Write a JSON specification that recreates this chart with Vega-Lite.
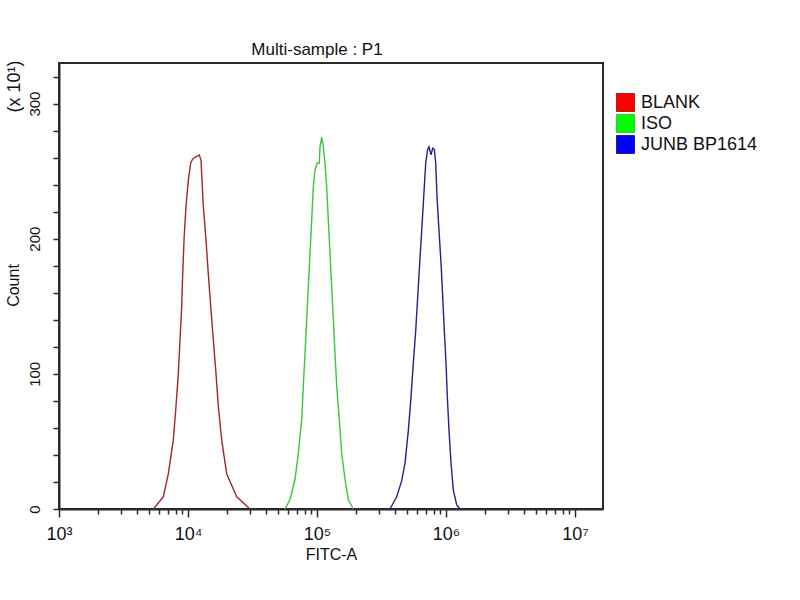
{
  "$schema": "https://vega.github.io/schema/vega-lite/v6.json",
  "width": 544,
  "height": 446,
  "autosize": "none",
  "padding": {"left": 59, "top": 63, "right": 197, "bottom": 91},
  "background": "white",
  "config": {
    "font": "Liberation Sans",
    "view": {"stroke": "#2a2a2a", "strokeWidth": 2},
    "axis": {"grid": false, "domainColor": "#2a2a2a", "domainWidth": 2, "tickColor": "#2a2a2a", "tickWidth": 1.5, "labelColor": "#111", "titleColor": "#111", "titleFontWeight": "normal"}
  },
  "title": {"text": "Multi-sample : P1", "fontSize": 17, "fontWeight": "normal", "color": "#111", "offset": 1, "dx": -14},
  "data": {
    "values": [
      {"sample": "BLANK", "fitc": 5383, "count": 0},
      {"sample": "BLANK", "fitc": 6435, "count": 9},
      {"sample": "BLANK", "fitc": 7036, "count": 26},
      {"sample": "BLANK", "fitc": 7691, "count": 51},
      {"sample": "BLANK", "fitc": 8072, "count": 76},
      {"sample": "BLANK", "fitc": 8411, "count": 100},
      {"sample": "BLANK", "fitc": 8670, "count": 125},
      {"sample": "BLANK", "fitc": 8938, "count": 150},
      {"sample": "BLANK", "fitc": 9098, "count": 174},
      {"sample": "BLANK", "fitc": 9312, "count": 199},
      {"sample": "BLANK", "fitc": 9650, "count": 224},
      {"sample": "BLANK", "fitc": 10054, "count": 243},
      {"sample": "BLANK", "fitc": 10493, "count": 256},
      {"sample": "BLANK", "fitc": 10874, "count": 259},
      {"sample": "BLANK", "fitc": 11679, "count": 261},
      {"sample": "BLANK", "fitc": 12236, "count": 262},
      {"sample": "BLANK", "fitc": 12613, "count": 258},
      {"sample": "BLANK", "fitc": 13141, "count": 224},
      {"sample": "BLANK", "fitc": 13788, "count": 199},
      {"sample": "BLANK", "fitc": 14370, "count": 174},
      {"sample": "BLANK", "fitc": 14997, "count": 150},
      {"sample": "BLANK", "fitc": 15710, "count": 125},
      {"sample": "BLANK", "fitc": 16489, "count": 100},
      {"sample": "BLANK", "fitc": 17180, "count": 76},
      {"sample": "BLANK", "fitc": 18251, "count": 51},
      {"sample": "BLANK", "fitc": 19953, "count": 26},
      {"sample": "BLANK", "fitc": 23850, "count": 9},
      {"sample": "BLANK", "fitc": 30240, "count": 0},
      {"sample": "ISO", "fitc": 56490, "count": 0},
      {"sample": "ISO", "fitc": 61760, "count": 7},
      {"sample": "ISO", "fitc": 67530, "count": 22},
      {"sample": "ISO", "fitc": 71620, "count": 41},
      {"sample": "ISO", "fitc": 76090, "count": 66},
      {"sample": "ISO", "fitc": 78300, "count": 91},
      {"sample": "ISO", "fitc": 80720, "count": 115},
      {"sample": "ISO", "fitc": 83210, "count": 140},
      {"sample": "ISO", "fitc": 85620, "count": 164},
      {"sample": "ISO", "fitc": 88260, "count": 189},
      {"sample": "ISO", "fitc": 90960, "count": 214},
      {"sample": "ISO", "fitc": 93600, "count": 238},
      {"sample": "ISO", "fitc": 96500, "count": 251},
      {"sample": "ISO", "fitc": 100530, "count": 256},
      {"sample": "ISO", "fitc": 104180, "count": 256},
      {"sample": "ISO", "fitc": 105500, "count": 268},
      {"sample": "ISO", "fitc": 108740, "count": 275},
      {"sample": "ISO", "fitc": 111900, "count": 268},
      {"sample": "ISO", "fitc": 115350, "count": 256},
      {"sample": "ISO", "fitc": 118900, "count": 238},
      {"sample": "ISO", "fitc": 122360, "count": 214},
      {"sample": "ISO", "fitc": 126130, "count": 189},
      {"sample": "ISO", "fitc": 130020, "count": 164},
      {"sample": "ISO", "fitc": 133780, "count": 140},
      {"sample": "ISO", "fitc": 137880, "count": 115},
      {"sample": "ISO", "fitc": 142130, "count": 91},
      {"sample": "ISO", "fitc": 148900, "count": 66},
      {"sample": "ISO", "fitc": 155420, "count": 41},
      {"sample": "ISO", "fitc": 164820, "count": 22},
      {"sample": "ISO", "fitc": 174820, "count": 7},
      {"sample": "ISO", "fitc": 191150, "count": 0},
      {"sample": "JUNB BP1614", "fitc": 367950, "count": 0},
      {"sample": "JUNB BP1614", "fitc": 414800, "count": 9},
      {"sample": "JUNB BP1614", "fitc": 453500, "count": 21},
      {"sample": "JUNB BP1614", "fitc": 481200, "count": 34},
      {"sample": "JUNB BP1614", "fitc": 510400, "count": 58},
      {"sample": "JUNB BP1614", "fitc": 535600, "count": 83},
      {"sample": "JUNB BP1614", "fitc": 557900, "count": 108},
      {"sample": "JUNB BP1614", "fitc": 582300, "count": 132},
      {"sample": "JUNB BP1614", "fitc": 603500, "count": 157},
      {"sample": "JUNB BP1614", "fitc": 625400, "count": 182},
      {"sample": "JUNB BP1614", "fitc": 648100, "count": 206},
      {"sample": "JUNB BP1614", "fitc": 671700, "count": 231},
      {"sample": "JUNB BP1614", "fitc": 696100, "count": 256},
      {"sample": "JUNB BP1614", "fitc": 721400, "count": 266},
      {"sample": "JUNB BP1614", "fitc": 738400, "count": 268},
      {"sample": "JUNB BP1614", "fitc": 765200, "count": 262},
      {"sample": "JUNB BP1614", "fitc": 788800, "count": 267},
      {"sample": "JUNB BP1614", "fitc": 811600, "count": 266},
      {"sample": "JUNB BP1614", "fitc": 832200, "count": 256},
      {"sample": "JUNB BP1614", "fitc": 851600, "count": 231},
      {"sample": "JUNB BP1614", "fitc": 882500, "count": 206},
      {"sample": "JUNB BP1614", "fitc": 914600, "count": 182},
      {"sample": "JUNB BP1614", "fitc": 942800, "count": 157},
      {"sample": "JUNB BP1614", "fitc": 970100, "count": 132},
      {"sample": "JUNB BP1614", "fitc": 1000000, "count": 108},
      {"sample": "JUNB BP1614", "fitc": 1023500, "count": 83},
      {"sample": "JUNB BP1614", "fitc": 1055100, "count": 58},
      {"sample": "JUNB BP1614", "fitc": 1093500, "count": 34},
      {"sample": "JUNB BP1614", "fitc": 1139300, "count": 14},
      {"sample": "JUNB BP1614", "fitc": 1210400, "count": 3},
      {"sample": "JUNB BP1614", "fitc": 1284000, "count": 0}
    ]
  },
  "layer": [
    {
      "mark": {"type": "line", "strokeWidth": 1.4},
      "encoding": {
        "x": {
          "field": "fitc",
          "type": "quantitative",
          "scale": {"type": "log", "domain": [1000, 16480000], "nice": false},
          "axis": {
            "values": [1000, 2000, 3000, 4000, 5000, 6000, 7000, 8000, 9000, 10000, 20000, 30000, 40000, 50000, 60000, 70000, 80000, 90000, 100000, 200000, 300000, 400000, 500000, 600000, 700000, 800000, 900000, 1000000, 2000000, 3000000, 4000000, 5000000, 6000000, 7000000, 8000000, 9000000, 10000000],
            "labelExpr": "abs(log(datum.value)/LN10 - round(log(datum.value)/LN10)) < 0.001 ? '10' + ['⁰','¹','²','³','⁴','⁵','⁶','⁷','⁸'][round(log(datum.value)/LN10)] : ''",
            "tickSize": {"condition": {"test": "abs(log(datum.value)/LN10 - round(log(datum.value)/LN10)) < 0.001", "value": 8}, "value": 5},
            "labelFontSize": 18,
            "labelPadding": 8,
            "labelFlush": false,
            "labelOverlap": false,
            "title": "FITC-A",
            "titleFontSize": 16,
            "titleX": 272,
            "titleY": 50,
            "titleBaseline": "alphabetic"
          }
        },
        "y": {
          "field": "count",
          "type": "quantitative",
          "scale": {"domain": [0, 330], "nice": false},
          "axis": {
            "values": [0, 20, 40, 60, 80, 100, 120, 140, 160, 180, 200, 220, 240, 260, 280, 300, 320],
            "labelExpr": "datum.value % 100 == 0 ? datum.label : ''",
            "labelAngle": 270,
            "labelAlign": "center",
            "labelBaseline": "bottom",
            "labelPadding": 11,
            "labelFontSize": 15,
            "tickSize": 6,
            "title": "Count",
            "titleFontSize": 16,
            "titleAngle": 270,
            "titleX": -46,
            "titleY": 222,
            "titleAlign": "center",
            "titleBaseline": "middle"
          }
        },
        "color": {
          "field": "sample",
          "type": "nominal",
          "scale": {"domain": ["BLANK", "ISO", "JUNB BP1614"], "range": ["#a02828", "#3cc43c", "#22228a"]},
          "legend": {
            "title": null,
            "orient": "none",
            "legendX": 557,
            "legendY": 30,
            "padding": 0,
            "symbolType": "square",
            "symbolSize": 324,
            "symbolStrokeWidth": 1,
            "labelFontSize": 18,
            "labelColor": "#111",
            "labelOffset": 6,
            "rowPadding": -2.5,
            "encode": {
              "symbols": {
                "update": {
                  "fill": {"signal": "datum.label == 'BLANK' ? '#ff0000' : datum.label == 'ISO' ? '#00ff00' : '#0000ff'"},
                  "stroke": {"value": "#333"},
                  "fillOpacity": {"value": 1},
                  "opacity": {"value": 1}
                }
              }
            }
          }
        }
      }
    },
    {
      "mark": {"type": "point", "opacity": 0},
      "encoding": {
        "x": {"field": "fitc", "type": "quantitative"},
        "y": {
          "field": "count",
          "type": "quantitative",
          "axis": {"orient": "left", "title": "(x 10¹)", "labels": false, "ticks": false, "domain": false, "titleFontSize": 18, "titleAngle": 270, "titleX": -45, "titleY": -3, "titleAlign": "right", "titleBaseline": "middle"}
        }
      }
    }
  ],
  "resolve": {"axis": {"y": "independent"}}
}
